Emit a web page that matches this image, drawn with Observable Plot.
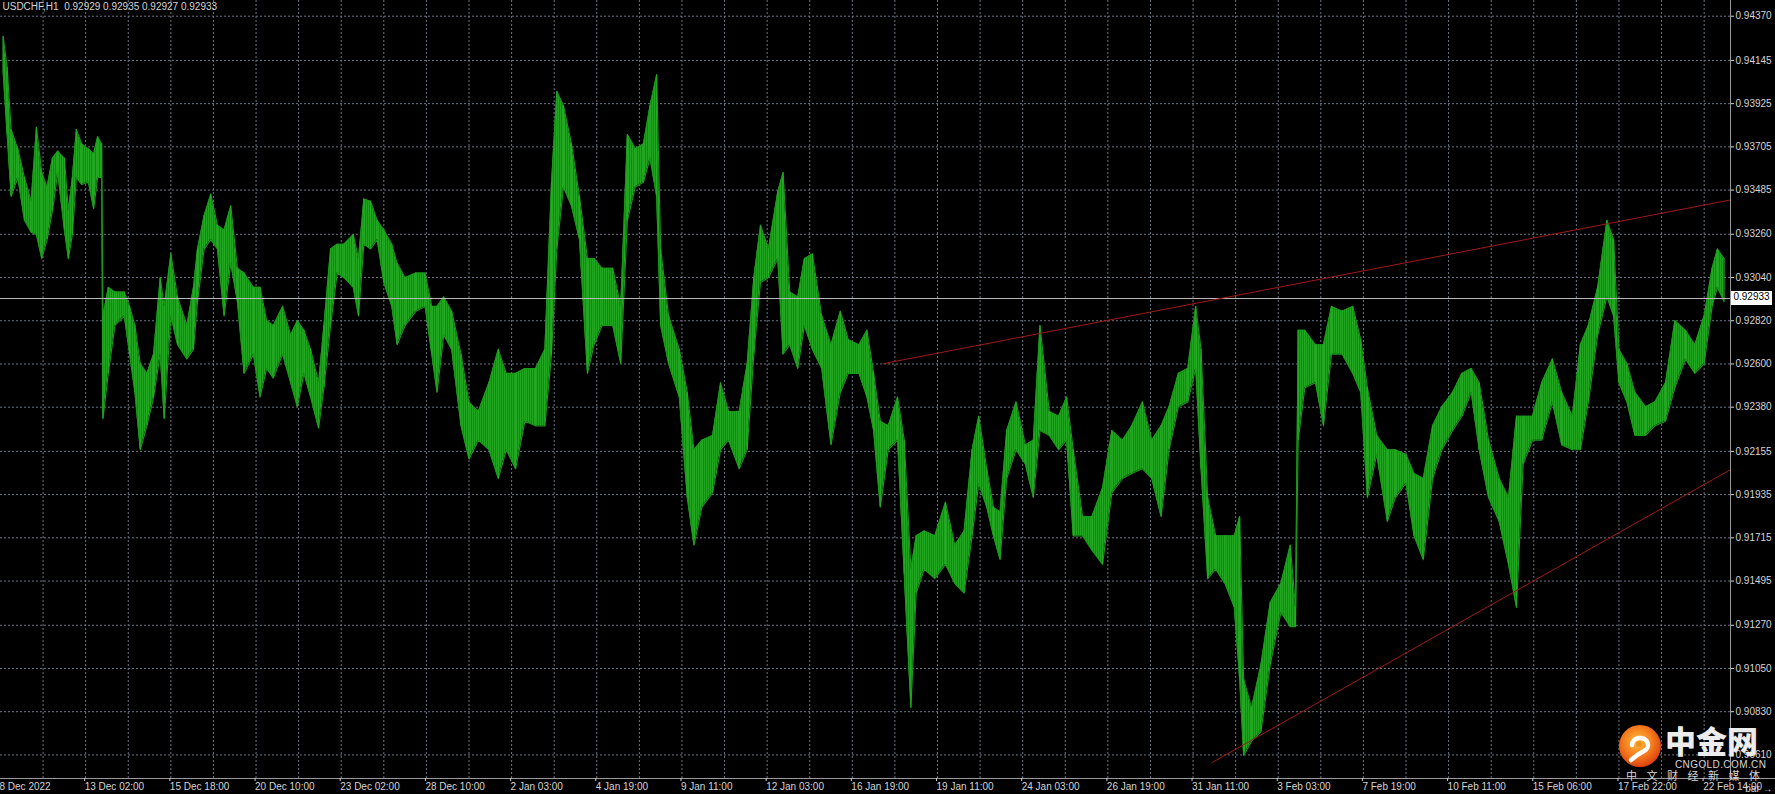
<!DOCTYPE html>
<html>
<head>
<meta charset="utf-8">
<script src="https://cdn.jsdelivr.net/npm/d3@7"></script>
<script src="https://cdn.jsdelivr.net/npm/@observablehq/plot@0.6"></script>
<style>
  html, body { margin: 0; padding: 0; background: #000; overflow: hidden; }
  #wrap { position: relative; width: 1775px; height: 794px; background: #000; }
  #wrap svg { display: block; }
  .ov { position: absolute; white-space: nowrap; }
</style>
</head>
<body>
<div id="wrap"></div>
<script>
// ---- chart values ----
const symbolName = "USDCHF,H1";
const lastQuote = ["0.92929", "0.92935", "0.92927", "0.92933"];
const lastPrice = 0.92933;

// bar index (H1 bars, bar 0 = 8 Dec 2022 10:00), traced high / low envelope
const barIndex = [2,5,8,13,18,23,27,31,35,39,43,48,51,54,57,61,66,70,73,76,77,81,86,93,97,101,105,110,115,120,123,128,133,140,145,148,153,158,163,168,173,178,183,190,195,200,205,212,218,223,228,233,239,243,248,253,258,265,269,273,278,283,288,294,298,304,312,319,324,328,333,339,346,352,359,367,374,380,387,394,402,409,414,418,423,429,435,441,446,452,460,466,471,477,483,488,493,496,502,510,516,521,527,535,541,547,555,561,566,571,577,584,588,593,599,604,610,617,624,631,637,645,651,656,661,667,674,679,684,688,694,702,710,717,724,730,735,741,746,751,756,763,770,776,781,788,795,801,806,813,820,828,835,843,850,858,865,872,878,885,892,898,902,907,913,920,927,931,934,940,947,954,962,969,973,975,980,988,994,1000,1008,1016,1022,1027,1034,1042,1048,1056,1062,1069,1076,1083,1091,1098,1105,1111,1118,1126,1133,1139,1144,1151,1158,1166,1173,1181,1187,1193,1200,1207,1212,1216,1222,1228,1236,1243,1251,1258,1266,1273,1280,1286,1290,1295];
const highs = [0.94267,0.94109,0.93793,0.93695,0.93549,0.93428,0.93805,0.93574,0.93501,0.93647,0.93683,0.93647,0.93379,0.93549,0.93793,0.93720,0.93695,0.93671,0.93756,0.93720,0.92844,0.92990,0.92966,0.92966,0.92893,0.92796,0.92601,0.92552,0.92650,0.93039,0.92893,0.93160,0.92941,0.92796,0.92990,0.93185,0.93355,0.93464,0.93306,0.93282,0.93404,0.93087,0.93063,0.92990,0.92990,0.92820,0.92796,0.92893,0.92747,0.92820,0.92771,0.92674,0.92504,0.92796,0.93185,0.93209,0.93209,0.93258,0.93136,0.93440,0.93428,0.93331,0.93282,0.93209,0.93112,0.93039,0.93063,0.93063,0.92893,0.92893,0.92941,0.92868,0.92650,0.92406,0.92358,0.92504,0.92674,0.92552,0.92552,0.92577,0.92577,0.92674,0.93525,0.93987,0.93914,0.93720,0.93452,0.93136,0.93136,0.93087,0.93087,0.92893,0.93768,0.93695,0.93720,0.93914,0.94072,0.93185,0.92844,0.92674,0.92455,0.92163,0.92212,0.92236,0.92504,0.92358,0.92358,0.92601,0.93039,0.93306,0.93185,0.93477,0.93574,0.92966,0.92941,0.93136,0.93160,0.92844,0.92698,0.92868,0.92723,0.92698,0.92771,0.92552,0.92309,0.92285,0.92431,0.92212,0.91555,0.91725,0.91750,0.91725,0.91896,0.91677,0.91750,0.92163,0.92334,0.92066,0.91871,0.91847,0.92261,0.92406,0.92188,0.92212,0.92796,0.92358,0.92334,0.92431,0.92163,0.91823,0.91823,0.91969,0.92261,0.92212,0.92285,0.92406,0.92212,0.92285,0.92382,0.92552,0.92577,0.92893,0.92674,0.91920,0.91725,0.91725,0.91725,0.91823,0.90996,0.90850,0.91069,0.91385,0.91482,0.91677,0.91361,0.92771,0.92771,0.92698,0.92698,0.92893,0.92868,0.92893,0.92723,0.92479,0.92236,0.92163,0.92163,0.92139,0.92042,0.92017,0.92285,0.92382,0.92455,0.92552,0.92577,0.92504,0.92212,0.92017,0.91920,0.92334,0.92334,0.92334,0.92504,0.92625,0.92455,0.92334,0.92698,0.92796,0.92990,0.93331,0.93233,0.92674,0.92601,0.92455,0.92382,0.92406,0.92504,0.92820,0.92771,0.92698,0.92844,0.93087,0.93185,0.93136];
const lows = [0.94084,0.93768,0.93452,0.93549,0.93331,0.93270,0.93258,0.93136,0.93233,0.93379,0.93574,0.93282,0.93136,0.93258,0.93549,0.93513,0.93525,0.93391,0.93549,0.93549,0.92321,0.92552,0.92796,0.92844,0.92650,0.92455,0.92163,0.92285,0.92431,0.92650,0.92321,0.92844,0.92698,0.92625,0.92674,0.92917,0.93185,0.93233,0.93185,0.92844,0.93112,0.92917,0.92552,0.92650,0.92431,0.92577,0.92528,0.92650,0.92504,0.92382,0.92552,0.92431,0.92273,0.92479,0.92796,0.93063,0.93039,0.92990,0.92844,0.93209,0.93185,0.93233,0.93014,0.92893,0.92698,0.92796,0.92868,0.92893,0.92650,0.92455,0.92747,0.92674,0.92285,0.92115,0.92212,0.92163,0.92017,0.92163,0.92066,0.92309,0.92285,0.92285,0.92650,0.93185,0.93501,0.93404,0.93233,0.92552,0.92698,0.92796,0.92796,0.92601,0.93331,0.93501,0.93525,0.93647,0.93452,0.92796,0.92601,0.92431,0.91920,0.91677,0.91871,0.91944,0.92163,0.92212,0.92066,0.92163,0.92650,0.93014,0.93039,0.93136,0.92650,0.92698,0.92577,0.92796,0.92674,0.92577,0.92188,0.92455,0.92552,0.92552,0.92431,0.92261,0.91871,0.92163,0.92212,0.91531,0.90850,0.91434,0.91555,0.91507,0.91580,0.91482,0.91434,0.91725,0.91993,0.91871,0.91725,0.91604,0.92017,0.92163,0.92090,0.91920,0.92261,0.92236,0.92163,0.92212,0.91725,0.91725,0.91652,0.91580,0.91944,0.92017,0.92042,0.92066,0.92017,0.91823,0.92163,0.92382,0.92406,0.92577,0.92066,0.91507,0.91555,0.91482,0.91361,0.90996,0.90607,0.90680,0.90728,0.91069,0.91336,0.91263,0.91263,0.92212,0.92479,0.92504,0.92285,0.92650,0.92650,0.92552,0.92455,0.91920,0.92139,0.91798,0.91920,0.91993,0.91725,0.91604,0.92017,0.92163,0.92261,0.92334,0.92455,0.92163,0.91920,0.91798,0.91580,0.91361,0.92090,0.92212,0.92212,0.92406,0.92188,0.92163,0.92163,0.92406,0.92747,0.92941,0.92844,0.92504,0.92406,0.92236,0.92236,0.92285,0.92309,0.92479,0.92625,0.92552,0.92601,0.92893,0.92990,0.92917];

// right price scale labels
const priceTicks = [0.94370,0.94145,0.93925,0.93705,0.93485,0.93260,0.93040,0.92820,0.92600,0.92380,0.92155,0.91935,0.91715,0.91495,0.91270,0.91050,0.90830,0.90610];
// time scale labels, one every 64 H1 bars
const dateLabels = ["8 Dec 2022","13 Dec 02:00","15 Dec 18:00","20 Dec 10:00","23 Dec 02:00","28 Dec 10:00","2 Jan 03:00","4 Jan 19:00","9 Jan 11:00","12 Jan 03:00","16 Jan 19:00","19 Jan 11:00","24 Jan 03:00","26 Jan 19:00","31 Jan 11:00","3 Feb 03:00","7 Feb 19:00","10 Feb 11:00","15 Feb 06:00","17 Feb 22:00","22 Feb 14:00"];
const barsPerLabel = 64;

// trend lines (bar index, price)
const upperTrendBars = [663, 1300];
const upperTrendPrices = [0.92601, 0.93435];
const lowerTrendBars = [910, 1300];
const lowerTrendPrices = [0.90570, 0.92063];

// ---- build ----
const bars = barIndex.map((b, i) => ({bar: b, hi: highs[i], lo: lows[i]}));
const upper = upperTrendBars.map((b, i) => ({bar: b, p: upperTrendPrices[i]}));
const lower = lowerTrendBars.map((b, i) => ({bar: b, p: lowerTrendPrices[i]}));
const labelBars = dateLabels.map((d, i) => i * barsPerLabel);
const gridBars = d3.range(barsPerLabel / 2, 1300, barsPerLabel / 2);
const xDomain = [0, 1299.8];
const yDomain = [0.90490, 0.94450];

const FONT = "'Liberation Sans', Arial, sans-serif";
const GREEN = "#1a981a";
const GRID = "#6a7683";

const chart = Plot.plot({
  width: 1775,
  height: 794,
  marginLeft: 0,
  marginRight: 45,
  marginTop: 0,
  marginBottom: 16,
  style: {background: "#000", color: "#d4d4d4", fontFamily: FONT, fontSize: "10px", overflow: "visible"},
  x: {type: "linear", domain: xDomain, axis: null},
  y: {type: "linear", domain: yDomain, axis: null},
  marks: [
    Plot.ruleY(priceTicks, {stroke: GRID, strokeDasharray: "2,2", strokeWidth: 1}),
    Plot.ruleX(gridBars, {stroke: GRID, strokeDasharray: "2,2", strokeWidth: 1}),
    Plot.areaY(bars, {x: "bar", y1: "lo", y2: "hi", fill: "url(#barTex)", curve: "linear"}),
    Plot.line(bars, {x: "bar", y: "hi", stroke: GREEN, strokeWidth: 1.1, curve: "linear"}),
    Plot.line(bars, {x: "bar", y: "lo", stroke: GREEN, strokeWidth: 1.1, curve: "linear"}),
    Plot.ruleX(bars, {x: "bar", y1: "lo", y2: "hi", stroke: "#24ac24", strokeWidth: 1}),
    Plot.ruleY([lastPrice], {stroke: "#bcbcbc", strokeWidth: 1}),
    Plot.line(upper, {x: "bar", y: "p", stroke: "#a01818", strokeWidth: 1}),
    Plot.line(lower, {x: "bar", y: "p", stroke: "#a01818", strokeWidth: 1}),
    Plot.ruleX([xDomain[1]], {stroke: "#9a9a9a", strokeWidth: 1}),
    Plot.ruleY([yDomain[0]], {stroke: "#9a9a9a", strokeWidth: 1}),
    Plot.axisY(priceTicks, {anchor: "right", tickSize: 3, tickPadding: 2, tickFormat: d => d.toFixed(5), fontSize: 10, fontFamily: FONT}),
    Plot.axisX(labelBars, {anchor: "bottom", tickSize: 3, tickPadding: 1, textAnchor: "start", dx: -1,
      tickFormat: d => dateLabels[Math.round(d / barsPerLabel)], fontSize: 10, fontFamily: FONT}),
    Plot.text([`${symbolName}\u00a0\u00a0${lastQuote.join(" ")}`], {frameAnchor: "top-left", dx: 2, dy: 2, lineAnchor: "top", textAnchor: "start", fill: "#d4d4d4", fontSize: 10, fontFamily: FONT, letterSpacing: "-0.3px"})
  ]
});

// vertical-bar texture for the price envelope
chart.insertAdjacentHTML("afterbegin", `<defs>
  <pattern id="barTex" patternUnits="userSpaceOnUse" width="2" height="6">
    <rect x="0" y="0" width="2" height="6" fill="#137a13"/>
    <rect x="0" y="0" width="1.3" height="6" fill="#22a622"/>
  </pattern>
</defs>`);

const wrap = document.getElementById("wrap");
wrap.appendChild(chart);

// extend the time-scale baseline under the price scale
const yScale = chart.scale("y");
const yBase = yScale.apply(yDomain[0]);
const base = document.createElement("div");
base.className = "ov";
base.style.cssText = `left:1730px;top:${Math.round(yBase) - 0.5}px;width:45px;height:1px;background:#9a9a9a;`;
wrap.appendChild(base);

// last price tag
const yLast = yScale.apply(lastPrice);
const tag = document.createElement("div");
tag.className = "ov";
tag.textContent = lastPrice.toFixed(5);
tag.style.cssText = `left:1731px;top:${yLast - 7}px;width:41px;height:14px;line-height:14px;background:#fff;color:#000;font:10px ${FONT};text-align:center;`;
wrap.appendChild(tag);

// watermark
const wm = document.createElement("div");
wm.innerHTML = `
<svg class="ov" style="left:1617px;top:723px" width="46" height="46" viewBox="0 0 46 46">
  <defs>
    <radialGradient id="lg" cx="45%" cy="40%" r="65%">
      <stop offset="0" stop-color="#ffc040"/>
      <stop offset="0.55" stop-color="#f47a1c"/>
      <stop offset="1" stop-color="#d8360e"/>
    </radialGradient>
  </defs>
  <circle cx="23" cy="23" r="21" fill="url(#lg)"/>
  <path d="M15 22 a8 7 0 1 1 12 6 q-6 3 -13 9" fill="none" stroke="#fff" stroke-width="4.5" stroke-linecap="round"/>
  <circle cx="22" cy="21" r="3" fill="#f0901c"/>
</svg>
<div class="ov" style="left:1665px;top:722px;font:900 31px 'Noto Sans CJK SC';color:#ececec;line-height:36px;">中金网</div>
<div class="ov" style="left:1675px;top:760px;font:10px ${FONT};color:#d8d8d8;letter-spacing:0.4px;line-height:10px;">CNGOLD.COM.CN</div>
<div class="ov" style="left:1626px;top:770px;font:11px 'Noto Sans CJK SC';color:#d8d8d8;letter-spacing:9.5px;line-height:11px;">中文财经新媒体</div>
`;
while (wm.firstChild) wrap.appendChild(wm.firstChild);
</script>
</body>
</html>
